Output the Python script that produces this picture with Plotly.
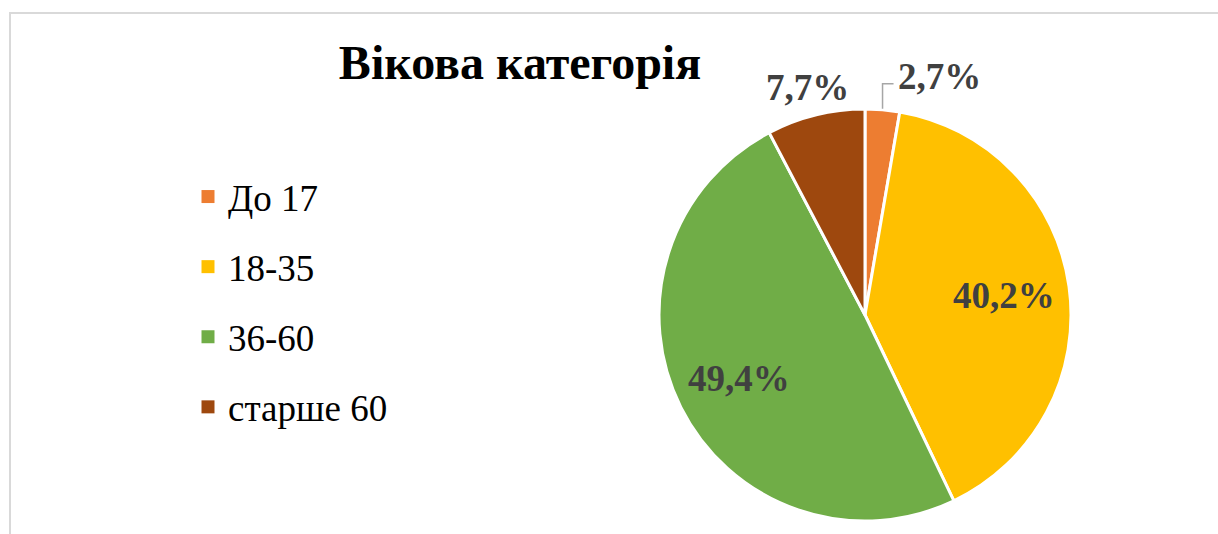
import math
import plotly.graph_objects as go

categories = ["До 17", "18-35", "36-60", "старше 60"]
values = [2.7, 40.2, 49.4, 7.7]
colors = ["#ED7D31", "#FFC000", "#70AD47", "#9E480E"]
title_text = "Вікова категорія"

W, H = 1218, 534
serif = "Times New Roman, Liberation Serif, Tinos, DejaVu Serif, serif"
label_font = dict(family=serif, size=37, color="#404040", weight="bold")

# pie domain (pixels)
px0, px1, py0, py1 = 659, 1071, 108, 522
cx, cy = (px0 + px1) / 2, (py0 + py1) / 2
R = (py1 - py0) / 2

total = sum(values)
label_texts = [f"{v / total * 100:.1f}%".replace(".", ",") for v in values]
outside = [True, False, False, True]

fig = go.Figure()

fig.add_trace(go.Pie(
    labels=categories,
    values=values,
    sort=False,
    direction="clockwise",
    rotation=0,
    marker=dict(colors=colors, line=dict(color="white", width=3)),
    textinfo="none",
    showlegend=False,
    domain=dict(x=[px0 / W, px1 / W], y=[1 - py1 / H, 1 - py0 / H]),
    hoverinfo="label+percent",
))

for cat, col in zip(categories, colors):
    fig.add_trace(go.Scatter(
        x=[None], y=[None], mode="markers", name=cat, legendgroup=cat,
        marker=dict(symbol="square", size=13, color=col),
    ))

# data labels placed like Excel's best-fit, derived from slice mid-angles
annotations = []
shapes = [dict(type="rect", xref="paper", yref="paper",
               x0=10 / W, x1=1.02, y0=-0.02, y1=1 - 13 / H,
               line=dict(color="#D9D9D9", width=2), layer="below")]
cum = 0.0
for i, v in enumerate(values):
    mid = (cum + v / 2) / total * 2 * math.pi
    cum += v
    if not outside[i]:
        r_in = 0.68 * R
        lx, ly = cx + r_in * math.sin(mid), cy - r_in * math.cos(mid)
        annotations.append(dict(x=lx / W, y=1 - ly / H, xref="paper", yref="paper",
                                text=label_texts[i], showarrow=False, xanchor="center", yanchor="middle",
                                font=label_font))
        continue
    ex, ey = cx + R * math.sin(mid), cy - R * math.cos(mid)
    if v / total < 0.05 and math.sin(mid) > 0:
        # leader line with elbow, label pushed to the right
        elbow_y = ey - 25
        tx0 = ex + 13
        shapes.append(dict(type="path", xref="paper", yref="paper",
                           path=f"M {ex / W},{1 - ey / H} L {ex / W},{1 - elbow_y / H} L {(ex + 11) / W},{1 - elbow_y / H}",
                           line=dict(color="#A6A6A6", width=1.5)))
        annotations.append(dict(x=tx0 / W, y=1 - (elbow_y - 7) / H, xref="paper", yref="paper",
                                text=label_texts[i], showarrow=False, xanchor="left", yanchor="middle",
                                font=label_font))
    else:
        annotations.append(dict(x=(ex - 8) / W, y=1 - (ey - 27) / H, xref="paper", yref="paper",
                                text=label_texts[i], showarrow=False, xanchor="center", yanchor="middle",
                                font=label_font))

fig.update_layout(
    width=W, height=H,
    margin=dict(l=0, r=0, t=0, b=0),
    paper_bgcolor="white",
    plot_bgcolor="white",
    font=dict(family=serif),
    title=dict(text=title_text, x=520 / W, xanchor="center", y=1 - 62 / H, yanchor="middle",
               font=dict(family=serif, size=48, color="black", weight="bold")),
    xaxis=dict(visible=False),
    yaxis=dict(visible=False),
    legend=dict(x=188 / W, xanchor="left", y=1 - 166 / H, yanchor="top",
                font=dict(family=serif, size=37, color="black"),
                traceorder="grouped", tracegroupgap=19, bgcolor="rgba(0,0,0,0)"),
    annotations=annotations,
    shapes=shapes,
)

fig.write_html("out.html")
